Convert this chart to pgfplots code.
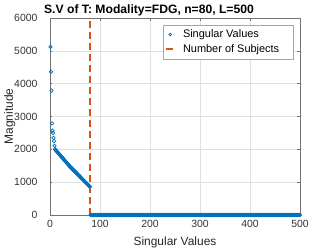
\documentclass[border=0pt]{standalone}
\usepackage{fontspec}
\setmainfont{Liberation Sans}
\usepackage{pgfplots}
\pgfplotsset{compat=1.18}
\definecolor{mblue}{rgb}{0,0.447,0.741}
\definecolor{morange}{rgb}{0.85,0.325,0.098}
\begin{document}
\begin{tikzpicture}
\begin{axis}[
  at={(0,0)}, anchor=south west,
  scale only axis, width=250bp, height=197bp,
  xmin=0, xmax=500, ymin=0, ymax=6000,
  xtick={0,100,200,300,400,500},
  ytick={0,1000,2000,3000,4000,5000,6000},
  scaled y ticks=false,
  /pgf/number format/assume math mode=true,
  /pgf/number format/set thousands separator={},
  tick label style={font=\fontsize{10.5}{12}\selectfont, text=black!80},
  yticklabel style={xshift=-9bp},
  xticklabel style={yshift=-1.5bp},
  label style={font=\fontsize{12}{14}\selectfont, text=black!85},
  xlabel={Singular Values}, ylabel={Magnitude},
  xlabel style={yshift=-3bp},
  ylabel style={yshift=-8bp},
  title={\textbf{S.V of T: Modality=FDG, n=80, L=500}},
  every axis title shift=0pt,
  title style={font=\fontsize{12.2}{14}\selectfont, at={(0.396,1)}, anchor=base, yshift=4.7bp},
  axis line style={black!55, line width=0.5bp},
  tick style={black!55, line width=0.5bp},
  major tick length=2.5bp,
  tick align=inside,
  grid=major,
  major grid style={black!12, line width=0.4bp},
  legend style={at={(0.973,0.967)}, anchor=north east, font=\fontsize{11}{12}\selectfont,
    draw=black!35, line width=0.5bp, inner xsep=2bp, inner ysep=3bp, row sep=1.5bp, column sep=5.5bp,
    cells={anchor=west}},
  legend cell align=left,
]
\addplot[only marks, mark=o, mark size=1.7bp, mblue, mark options={line width=0.7bp},
  legend image code/.code={\draw[mark options={line width=0.7bp}] plot[mark=o, mark size=1.4bp] coordinates {(4.2bp,0bp)};}] coordinates {
(1,5120)(2,4360)(3,3790)(4,2790)(5,2570)(6,2500)(7,2350)(8,2250)(9,2110)(10,2010)
(11,1982)(12,1965)(13,1948)(14,1930)(15,1912)(16,1895)(17,1878)(18,1860)(19,1842)(20,1825)
(21,1808)(22,1790)(23,1772)(24,1755)(25,1738)(26,1720)(27,1702)(28,1685)(29,1668)(30,1650)
(31,1632)(32,1615)(33,1598)(34,1580)(35,1562)(36,1545)(37,1528)(38,1510)(39,1492)(40,1475)
(41,1460)(42,1444)(43,1429)(44,1413)(45,1398)(46,1383)(47,1367)(48,1352)(49,1336)(50,1321)
(51,1306)(52,1290)(53,1275)(54,1259)(55,1244)(56,1229)(57,1213)(58,1198)(59,1182)(60,1167)
(61,1152)(62,1136)(63,1121)(64,1105)(65,1090)(66,1075)(67,1059)(68,1044)(69,1028)(70,1013)
(71,998)(72,982)(73,967)(74,951)(75,936)(76,921)(77,905)(78,890)(79,874)(80,859)
(81,0)(82,0)(83,0)(84,0)(85,0)(86,0)(87,0)(88,0)(89,0)(90,0)
(91,0)(92,0)(93,0)(94,0)(95,0)(96,0)(97,0)(98,0)(99,0)(100,0)
(101,0)(102,0)(103,0)(104,0)(105,0)(106,0)(107,0)(108,0)(109,0)(110,0)
(111,0)(112,0)(113,0)(114,0)(115,0)(116,0)(117,0)(118,0)(119,0)(120,0)
(121,0)(122,0)(123,0)(124,0)(125,0)(126,0)(127,0)(128,0)(129,0)(130,0)
(131,0)(132,0)(133,0)(134,0)(135,0)(136,0)(137,0)(138,0)(139,0)(140,0)
(141,0)(142,0)(143,0)(144,0)(145,0)(146,0)(147,0)(148,0)(149,0)(150,0)
(151,0)(152,0)(153,0)(154,0)(155,0)(156,0)(157,0)(158,0)(159,0)(160,0)
(161,0)(162,0)(163,0)(164,0)(165,0)(166,0)(167,0)(168,0)(169,0)(170,0)
(171,0)(172,0)(173,0)(174,0)(175,0)(176,0)(177,0)(178,0)(179,0)(180,0)
(181,0)(182,0)(183,0)(184,0)(185,0)(186,0)(187,0)(188,0)(189,0)(190,0)
(191,0)(192,0)(193,0)(194,0)(195,0)(196,0)(197,0)(198,0)(199,0)(200,0)
(201,0)(202,0)(203,0)(204,0)(205,0)(206,0)(207,0)(208,0)(209,0)(210,0)
(211,0)(212,0)(213,0)(214,0)(215,0)(216,0)(217,0)(218,0)(219,0)(220,0)
(221,0)(222,0)(223,0)(224,0)(225,0)(226,0)(227,0)(228,0)(229,0)(230,0)
(231,0)(232,0)(233,0)(234,0)(235,0)(236,0)(237,0)(238,0)(239,0)(240,0)
(241,0)(242,0)(243,0)(244,0)(245,0)(246,0)(247,0)(248,0)(249,0)(250,0)
(251,0)(252,0)(253,0)(254,0)(255,0)(256,0)(257,0)(258,0)(259,0)(260,0)
(261,0)(262,0)(263,0)(264,0)(265,0)(266,0)(267,0)(268,0)(269,0)(270,0)
(271,0)(272,0)(273,0)(274,0)(275,0)(276,0)(277,0)(278,0)(279,0)(280,0)
(281,0)(282,0)(283,0)(284,0)(285,0)(286,0)(287,0)(288,0)(289,0)(290,0)
(291,0)(292,0)(293,0)(294,0)(295,0)(296,0)(297,0)(298,0)(299,0)(300,0)
(301,0)(302,0)(303,0)(304,0)(305,0)(306,0)(307,0)(308,0)(309,0)(310,0)
(311,0)(312,0)(313,0)(314,0)(315,0)(316,0)(317,0)(318,0)(319,0)(320,0)
(321,0)(322,0)(323,0)(324,0)(325,0)(326,0)(327,0)(328,0)(329,0)(330,0)
(331,0)(332,0)(333,0)(334,0)(335,0)(336,0)(337,0)(338,0)(339,0)(340,0)
(341,0)(342,0)(343,0)(344,0)(345,0)(346,0)(347,0)(348,0)(349,0)(350,0)
(351,0)(352,0)(353,0)(354,0)(355,0)(356,0)(357,0)(358,0)(359,0)(360,0)
(361,0)(362,0)(363,0)(364,0)(365,0)(366,0)(367,0)(368,0)(369,0)(370,0)
(371,0)(372,0)(373,0)(374,0)(375,0)(376,0)(377,0)(378,0)(379,0)(380,0)
(381,0)(382,0)(383,0)(384,0)(385,0)(386,0)(387,0)(388,0)(389,0)(390,0)
(391,0)(392,0)(393,0)(394,0)(395,0)(396,0)(397,0)(398,0)(399,0)(400,0)
(401,0)(402,0)(403,0)(404,0)(405,0)(406,0)(407,0)(408,0)(409,0)(410,0)
(411,0)(412,0)(413,0)(414,0)(415,0)(416,0)(417,0)(418,0)(419,0)(420,0)
(421,0)(422,0)(423,0)(424,0)(425,0)(426,0)(427,0)(428,0)(429,0)(430,0)
(431,0)(432,0)(433,0)(434,0)(435,0)(436,0)(437,0)(438,0)(439,0)(440,0)
(441,0)(442,0)(443,0)(444,0)(445,0)(446,0)(447,0)(448,0)(449,0)(450,0)
(451,0)(452,0)(453,0)(454,0)(455,0)(456,0)(457,0)(458,0)(459,0)(460,0)
(461,0)(462,0)(463,0)(464,0)(465,0)(466,0)(467,0)(468,0)(469,0)(470,0)
(471,0)(472,0)(473,0)(474,0)(475,0)(476,0)(477,0)(478,0)(479,0)(480,0)
(481,0)(482,0)(483,0)(484,0)(485,0)(486,0)(487,0)(488,0)(489,0)(490,0)
(491,0)(492,0)(493,0)(494,0)(495,0)(496,0)(497,0)(498,0)(499,0)(500,0)
};
\addlegendentry{\makebox[106bp][l]{Singular Values}}
\addplot[morange, line width=2bp, dash pattern=on 7bp off 4bp,
  legend image code/.code={\draw[morange, line width=2bp] (0bp,0bp) -- (8.5bp,0bp);}]
  coordinates {(80,0)(80,6000)};
\addlegendentry{\makebox[106bp][l]{Number of Subjects}}
\end{axis}
\pgfresetboundingbox
\path[use as bounding box] (-50bp,-34bp) rectangle (282bp,215bp);
\end{tikzpicture}
\end{document}
